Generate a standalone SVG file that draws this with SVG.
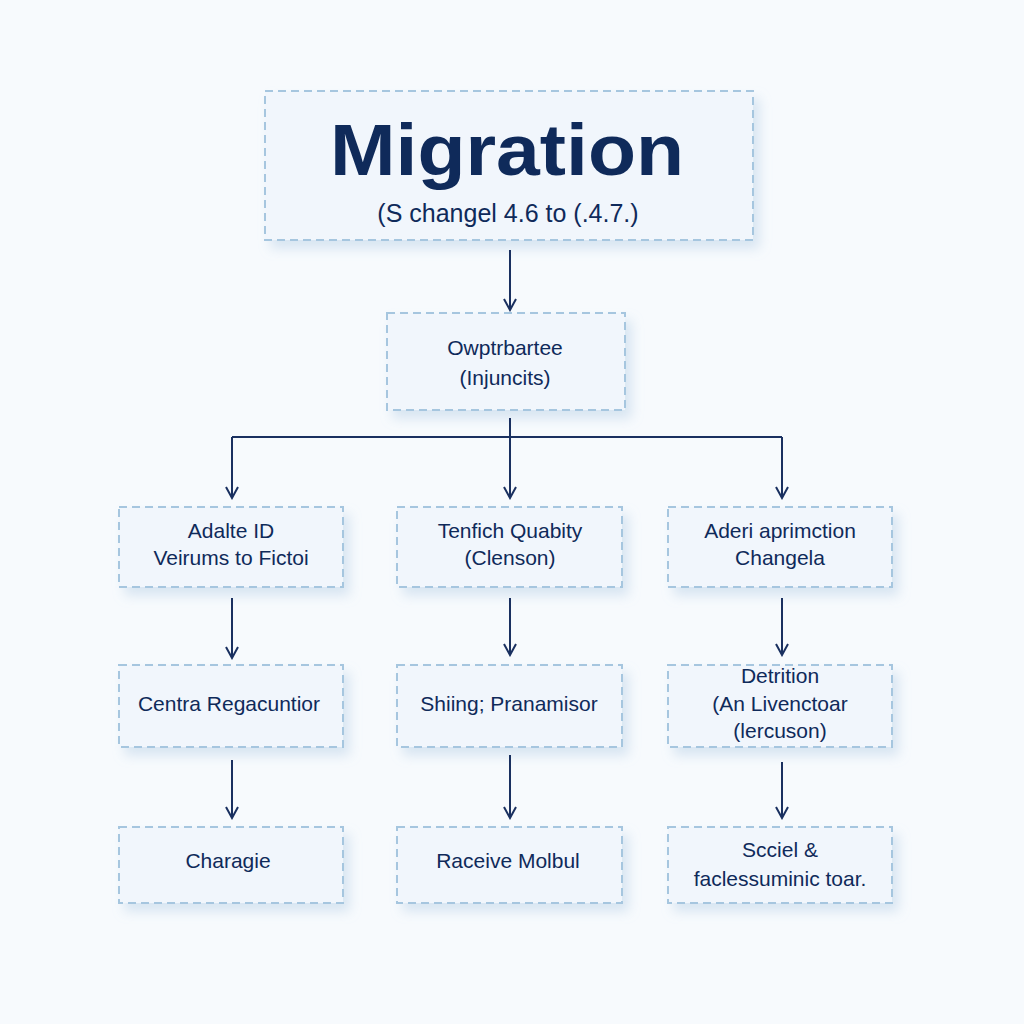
<svg xmlns="http://www.w3.org/2000/svg" width="1024" height="1024" viewBox="0 0 1024 1024">
<style>
.box{fill:#f1f6fc;stroke:#a6c6df;stroke-width:2;stroke-dasharray:8 5}
.t{font-family:"Liberation Sans",Arial,sans-serif;fill:#0f2a5a;text-anchor:middle;font-size:21px}
.c{fill:none;stroke:#1a3060;stroke-width:2}
</style>
<defs>
<marker id="a" markerWidth="14" markerHeight="14" refX="12" refY="7" orient="auto" markerUnits="userSpaceOnUse" viewBox="0 0 14 14">
<path d="M1,1 L12,7 L1,13" fill="none" stroke="#1a3060" stroke-width="2"/>
</marker>
<filter id="s" x="-10%" y="-10%" width="130%" height="140%"><feDropShadow dx="6" dy="8" stdDeviation="6" flood-color="#9dbedc" flood-opacity="0.35"/></filter>
</defs>
<rect width="1024" height="1024" fill="#f7fafd"/>
<g id="n0"><rect class="box" x="265" y="91" width="488" height="149" filter="url(#s)"/>
<text class="t" x="507" y="175" textLength="354" lengthAdjust="spacingAndGlyphs" style="font-size:72px;font-weight:bold">Migration</text>
<text class="t" x="508" y="222" style="font-size:25px">(S changel 4.6 to (.4.7.)</text></g>
<g id="n1"><rect class="box" x="387" y="313" width="238" height="97" filter="url(#s)"/>
<text class="t" x="505" y="355">Owptrbartee</text><text class="t" x="505" y="385">(Injuncits)</text></g>
<g id="n2"><rect class="box" x="119" y="507" width="224" height="80" filter="url(#s)"/>
<text class="t" x="231" y="538">Adalte ID</text><text class="t" x="231" y="565">Veirums to Fictoi</text></g>
<g id="n3"><rect class="box" x="397" y="507" width="225" height="80" filter="url(#s)"/>
<text class="t" x="510" y="538">Tenfich Quabity</text><text class="t" x="510" y="565">(Clenson)</text></g>
<g id="n4"><rect class="box" x="668" y="507" width="224" height="80" filter="url(#s)"/>
<text class="t" x="780" y="538">Aderi aprimction</text><text class="t" x="780" y="565">Changela</text></g>
<g id="n5"><rect class="box" x="119" y="665" width="224" height="82" filter="url(#s)"/>
<text class="t" x="229" y="711">Centra Regacuntior</text></g>
<g id="n6"><rect class="box" x="397" y="665" width="225" height="82" filter="url(#s)"/>
<text class="t" x="509" y="711">Shiing; Pranamisor</text></g>
<g id="n7"><rect class="box" x="668" y="665" width="224" height="82" filter="url(#s)"/>
<text class="t" x="780" y="683">Detrition</text><text class="t" x="780" y="711">(An Livenctoar</text><text class="t" x="780" y="738">(lercuson)</text></g>
<g id="n8"><rect class="box" x="119" y="827" width="224" height="76" filter="url(#s)"/>
<text class="t" x="228" y="868">Charagie</text></g>
<g id="n9"><rect class="box" x="397" y="827" width="225" height="76" filter="url(#s)"/>
<text class="t" x="508" y="868">Raceive Molbul</text></g>
<g id="n10"><rect class="box" x="668" y="827" width="224" height="76" filter="url(#s)"/>
<text class="t" x="780" y="857">Scciel &amp;</text><text class="t" x="780" y="886">faclessuminic toar.</text></g>
<g id="connectors">
<path class="c" d="M510,250 V310" marker-end="url(#a)"/>
<path class="c" d="M510,418 V437 M232,437 H782"/>
<path class="c" d="M232,437 V498" marker-end="url(#a)"/>
<path class="c" d="M510,437 V498" marker-end="url(#a)"/>
<path class="c" d="M782,437 V498" marker-end="url(#a)"/>
<path class="c" d="M232,598 V658" marker-end="url(#a)"/>
<path class="c" d="M510,598 V655" marker-end="url(#a)"/>
<path class="c" d="M782,598 V655" marker-end="url(#a)"/>
<path class="c" d="M232,760 V818" marker-end="url(#a)"/>
<path class="c" d="M510,755 V818" marker-end="url(#a)"/>
<path class="c" d="M782,762 V818" marker-end="url(#a)"/>
</g>
</svg>
